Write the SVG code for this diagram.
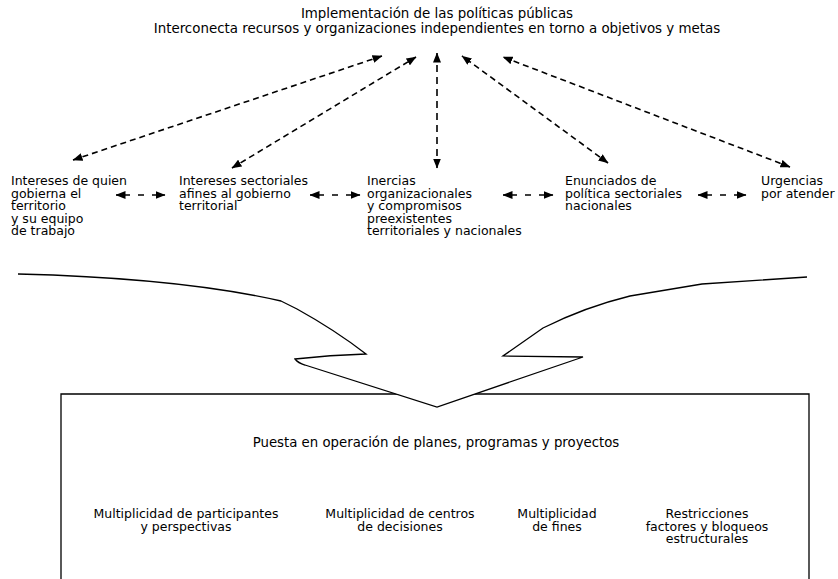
<svg xmlns="http://www.w3.org/2000/svg" width="838" height="579" viewBox="0 0 838 579">
<style>
text{font-family:"DejaVu Sans",Verdana,sans-serif;font-size:12.5px;fill:#000}
.t{font-size:13.4px}
.p{font-size:13.3px}
.c{text-anchor:middle}
.con{stroke:#000;stroke-width:1.6;fill:none;marker-start:url(#ah);marker-end:url(#ah)}
.dg{stroke-dasharray:6 4}
.hz{stroke-dasharray:14 8 6 8 14}
.sh{stroke:#000;stroke-width:1.3}
</style>
<defs>
<marker id="ah" viewBox="0 0 10 8" markerUnits="userSpaceOnUse" markerWidth="10" markerHeight="8" refX="9.5" refY="4" orient="auto-start-reverse">
<path d="M0,0 L10,4 L0,8 z" fill="#000"/>
</marker>
</defs>
<rect width="838" height="579" fill="#fff"/>

<g id="title">
<text class="t c" x="437" y="18">Implementación de las políticas públicas</text>
<text class="t c" x="437" y="33">Interconecta recursos y organizaciones independientes en torno a objetivos y metas</text>
</g>

<g id="n1"><text x="11" y="185"><tspan x="11">Intereses de quien</tspan><tspan x="11" dy="12.5">gobierna el</tspan><tspan x="11" dy="12.5">territorio</tspan><tspan x="11" dy="12.5">y su equipo</tspan><tspan x="11" dy="12.5">de trabajo</tspan></text></g>
<g id="n2"><text x="179" y="185"><tspan x="179">Intereses sectoriales</tspan><tspan x="179" dy="12.5">afines al gobierno</tspan><tspan x="179" dy="12.5">territorial</tspan></text></g>
<g id="n3"><text x="367" y="185"><tspan x="367">Inercias</tspan><tspan x="367" dy="12.5">organizacionales</tspan><tspan x="367" dy="12.5">y compromisos</tspan><tspan x="367" dy="12.5">preexistentes</tspan><tspan x="367" dy="12.5">territoriales y nacionales</tspan></text></g>
<g id="n4"><text x="565" y="185"><tspan x="565">Enunciados de</tspan><tspan x="565" dy="12.5">política sectoriales</tspan><tspan x="565" dy="12.5">nacionales</tspan></text></g>
<g id="n5"><text x="761" y="185"><tspan x="761">Urgencias</tspan><tspan x="761" dy="12.5">por atender</tspan></text></g>

<g id="box">
<path class="sh" d="M61,585 L61,394 L809,394 L809,585" fill="none"/>
</g>

<g id="funnel">
<path class="sh" fill="#fff" d="M18,274 Q180,278 281,301 L297,309 Q335,330 366,354 Q330,355 295,359 Q298,363 305,365 L437,407 L583,357 L503,356 L543,328 Q585,307 630,296 L702,284 L807,277"/>
</g>

<g id="box-text">
<text class="p c" x="436" y="447">Puesta en operación de planes, programas y proyectos</text>
<text class="c" x="186" y="518"><tspan x="186">Multiplicidad de participantes</tspan><tspan x="186" dy="12.5">y perspectivas</tspan></text>
<text class="c" x="400" y="518"><tspan x="400">Multiplicidad de centros</tspan><tspan x="400" dy="12.5">de decisiones</tspan></text>
<text class="c" x="557" y="518"><tspan x="557">Multiplicidad</tspan><tspan x="557" dy="12.5">de fines</tspan></text>
<text class="c" x="707" y="518"><tspan x="707">Restricciones</tspan><tspan x="707" dy="12.5">factores y bloqueos</tspan><tspan x="707" dy="12.5">estructurales</tspan></text>
</g>

<g id="connectors">
<path class="con dg" d="M73,160 L382,56"/>
<path class="con dg" d="M232,168 L416,57"/>
<path class="con" style="stroke-dasharray:7 5" d="M437,168 L437,53"/>
<path class="con dg" d="M608,163 L462,56"/>
<path class="con dg" d="M790,167 L503,57"/>
<path class="con hz" d="M116,195 L165,195"/>
<path class="con hz" d="M310,195 L360,195"/>
<path class="con hz" d="M503,195 L553,195"/>
<path class="con hz" d="M698,195 L746,195"/>
</g>
</svg>
